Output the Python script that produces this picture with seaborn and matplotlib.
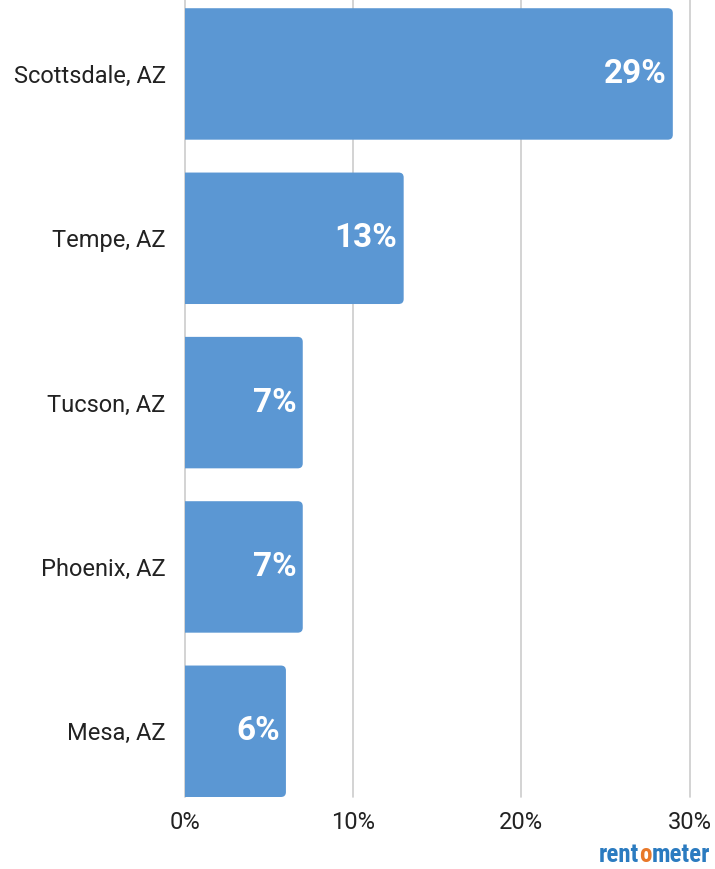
import matplotlib
matplotlib.use("Agg")
import matplotlib.pyplot as plt
import seaborn as sns
import pandas as pd
from matplotlib.patches import FancyBboxPatch

cities = ["Scottsdale, AZ", "Tempe, AZ", "Tucson, AZ", "Phoenix, AZ", "Mesa, AZ"]
values = [29, 13, 7, 7, 6]
tick_vals = [0, 10, 20, 30]
tick_labels = ["0%", "10%", "20%", "30%"]

df = pd.DataFrame({"city": cities, "value": values})

sns.set_theme(style="white")
plt.rcParams["font.family"] = ["Roboto", "DejaVu Sans"]

fig = plt.figure(figsize=(7.15, 8.69), dpi=100)
ax = fig.add_axes([185/715, 1-797/869, 508/715, 797/869])

bar_color = "#5B97D3"
sns.barplot(data=df, x="value", y="city", orient="h", color=bar_color,
            width=0.8, ax=ax, saturation=1)

# round right corners
for p in list(ax.patches):
    x0, y0 = p.get_x(), p.get_y()
    w, h = p.get_width(), p.get_height()
    p.set_visible(False)
    fb = FancyBboxPatch((x0 - 1, y0), w + 1, h,
                        boxstyle="round,pad=0,rounding_size=0.3",
                        mutation_aspect=0.1,
                        facecolor=bar_color, edgecolor="none", zorder=2, clip_on=True)
    ax.add_patch(fb)

ax.set_xlim(0, 30.2)
ax.set_ylim(4.4, -0.45)
ax.set_xticks(tick_vals)
ax.set_xticklabels(tick_labels)
ax.set_xlabel("")
ax.set_ylabel("")
ax.tick_params(axis="x", length=0, pad=10, labelsize=17)
ax.tick_params(axis="y", length=0, pad=14, labelsize=17)
for lab in ax.get_xticklabels() + ax.get_yticklabels():
    lab.set_color("#222222")

for s in ax.spines.values():
    s.set_visible(False)
for xv in tick_vals:
    ax.axvline(xv, color="#cccccc", lw=1.2, zorder=1, clip_on=False)

for i, v in enumerate(values):
    ax.annotate(f"{v}%", xy=(v, i), xytext=(-4.5, 0), textcoords="offset points",
                ha="right", va="center", color="white", fontsize=24,
                fontweight="bold", zorder=3)

# logo
fig.canvas.draw()
renderer = fig.canvas.get_renderer()
parts = [("rent", "#2B7BC0"), ("o", "#E8782A"), ("meter", "#2B7BC0")]
x = 599
for txt, col in parts:
    t = fig.text(x / 715, 1 - 862 / 869, txt, color=col, fontsize=18,
                 fontweight="bold", ha="left", va="baseline",
                 family=["Roboto Condensed", "Roboto", "DejaVu Sans"])
    fig.canvas.draw()
    bb = t.get_window_extent(renderer)
    x = bb.x1

fig.savefig("out.png", dpi=100)
